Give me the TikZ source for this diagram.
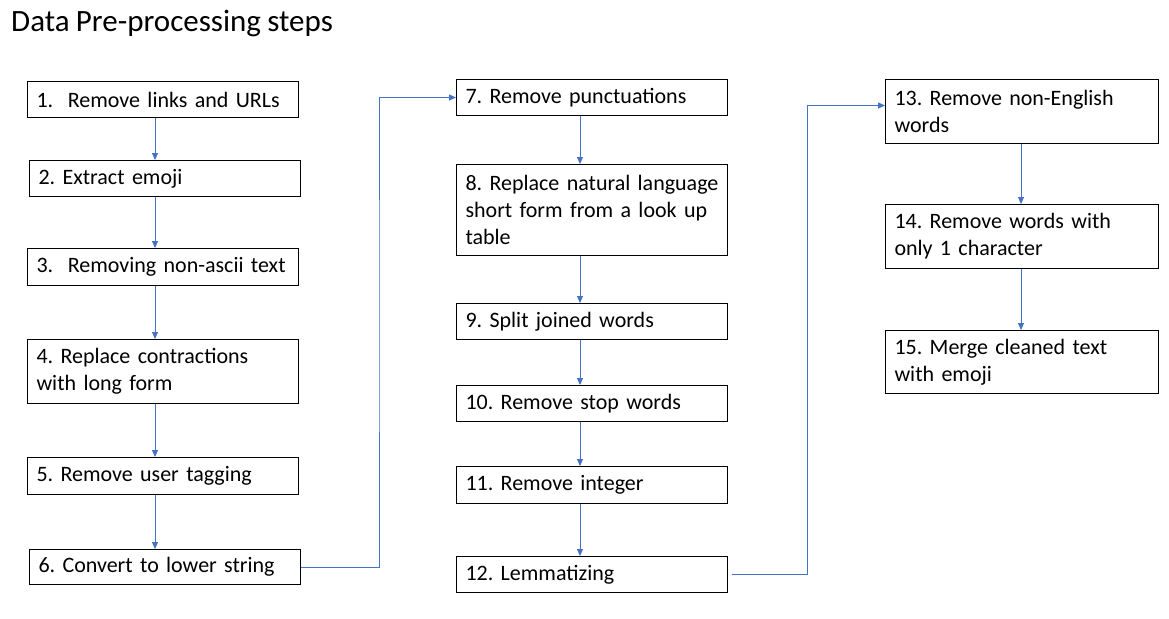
\documentclass[tikz,border=0pt]{standalone}
\usepackage{fontspec}
\setmainfont[WordSpace=0.9]{Carlito}
\usetikzlibrary{arrows.meta}
\definecolor{arrblue}{HTML}{4472C4}
\frenchspacing
\hyphenpenalty=10000
\exhyphenpenalty=10000
\tikzset{
  stepbox/.style={draw=black, line width=1pt, anchor=north west, inner xsep=9pt, inner ysep=0pt,
    align=left, font=\fontsize{22}{27}\selectfont, text=black},
  w271/.style={text width=253pt},
  w273/.style={text width=255pt},
  arr/.style={draw=arrblue, line width=0.9pt, -{Triangle[length=7pt,width=6pt]}}
}
\begin{document}
\begin{tikzpicture}[x=1pt,y=-1pt]
\path[use as bounding box] (0,0) rectangle (1169,618);
\node[anchor=base west, font=\fontsize{31}{36}\selectfont, inner sep=0pt] (title) at (11,32) {Data Pre-processing steps};
% column 1
\node[stepbox,w271,minimum height=36pt] (b1) at (27,81) {1.\ \ Remove links and URLs};
\node[stepbox,w271,minimum height=36pt] (b2) at (29,160) {2. Extract emoji};
\node[stepbox,w271,minimum height=37pt] (b3) at (27,248) {3.\ \ Removing non-ascii text};
\node[stepbox,w271,minimum height=64pt] (b4) at (27,339) {4. Replace contractions\\with long form};
\node[stepbox,w271,minimum height=37pt] (b5) at (27,457) {5. Remove user tagging};
\node[stepbox,w271,minimum height=35pt] (b6) at (29,549) {6. Convert to lower string};
% column 2
\node[stepbox,w271,minimum height=36pt] (b7) at (456,79) {7. Remove punctuations};
\node[stepbox,w271,minimum height=91pt] (b8) at (456,164) {8. Replace natural language\\short form from a look up\\table};
\node[stepbox,w271,minimum height=36pt] (b9) at (456,303) {9. Split joined words};
\node[stepbox,w271,minimum height=36pt] (b10) at (456,385) {10. Remove stop words};
\node[stepbox,w271,minimum height=37pt] (b11) at (456,466) {11. Remove integer};
\node[stepbox,w271,minimum height=36pt] (b12) at (456,556) {12. Lemmatizing};
% column 3
\node[stepbox,w273,minimum height=64pt] (b13) at (885,79) {13. Remove non-English\\words};
\node[stepbox,w273,minimum height=64pt] (b14) at (885,204) {14. Remove words with\\only 1 character};
\node[stepbox,w273,minimum height=63pt] (b15) at (885,330) {15. Merge cleaned text\\with emoji};
% arrow columns
\coordinate (c1) at (155,0);
\coordinate (c2) at (580,0);
\coordinate (c3) at (1021,0);
\draw[arr] (b1.south -| c1) -- (b2.north -| c1);
\draw[arr] (b2.south -| c1) -- (b3.north -| c1);
\draw[arr] (b3.south -| c1) -- (b4.north -| c1);
\draw[arr] (b4.south -| c1) -- (b5.north -| c1);
\draw[arr] (b5.south -| c1) -- (b6.north -| c1);
\draw[arr] (b7.south -| c2) -- (b8.north -| c2);
\draw[arr] (b8.south -| c2) -- (b9.north -| c2);
\draw[arr] (b9.south -| c2) -- (b10.north -| c2);
\draw[arr] (b10.south -| c2) -- (b11.north -| c2);
\draw[arr] (b11.south -| c2) -- (b12.north -| c2);
\draw[arr] (b13.south -| c3) -- (b14.north -| c3);
\draw[arr] (b14.south -| c3) -- (b15.north -| c3);
% elbow connectors
\coordinate (e1) at (379,300);
\coordinate (e2) at (807,300);
\draw[arr] (b6.east) -| (e1) |- (b7.west);
\draw[arr, shorten <=4pt] (b12.east) -| (e2) |- ([yshift=6pt]b13.west);
\end{tikzpicture}
\end{document}
